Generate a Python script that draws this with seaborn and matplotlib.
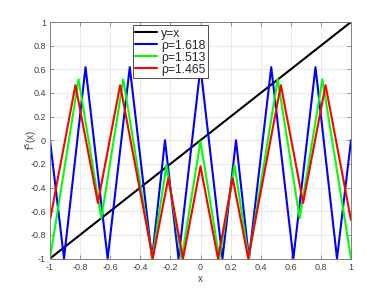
import numpy as np
import pandas as pd
import seaborn as sns
import matplotlib
matplotlib.use("Agg")
import matplotlib.pyplot as plt

# vertices of f^5(x)
blue_x = [-1, -0.907, -0.764, -0.617, -0.470, -0.322, -0.236, -0.146, 0,
          0.146, 0.236, 0.322, 0.470, 0.617, 0.764, 0.907, 1]
blue_y = [0, -1, 0.618, -1, 0.618, -1, 0, -1, 0.618,
          -1, 0, -1, 0.618, -1, 0.618, -1, 0]

green_x = [-1, -0.810, -0.659, -0.513, -0.320, -0.226, -0.125, 0,
           0.125, 0.226, 0.320, 0.513, 0.659, 0.810, 1]
green_y = [-1, 0.515, -0.66, 0.515, -1, -0.21, -1, -0.01,
           -1, -0.21, -1, 0.515, -0.66, 0.515, -1]

red_x = [-1, -0.831, -0.682, -0.534, -0.317, -0.214, -0.116, 0,
         0.116, 0.214, 0.317, 0.534, 0.682, 0.831, 1]
red_y = [-0.675, 0.466, -0.53, 0.466, -1, -0.32, -1, -0.22,
         -1, -0.32, -1, 0.466, -0.53, 0.466, -0.675]

diag_x = [-1, 1]
diag_y = [-1, 1]

labels = ["ρ=1.618", "ρ=1.513", "ρ=1.465"]
ticks = [-1, -0.8, -0.6, -0.4, -0.2, 0, 0.2, 0.4, 0.6, 0.8, 1]
tick_labels = ["-1", "-0.8", "-0.6", "-0.4", "-0.2", "0", "0.2", "0.4", "0.6", "0.8", "1"]

df = pd.concat([
    pd.DataFrame({"x": blue_x, "y": blue_y, "rho": labels[0]}),
    pd.DataFrame({"x": green_x, "y": green_y, "rho": labels[1]}),
    pd.DataFrame({"x": red_x, "y": red_y, "rho": labels[2]}),
])

sns.set_theme(style="whitegrid")
plt.rcParams["font.family"] = ["Liberation Sans", "DejaVu Sans"]

fig = plt.figure(figsize=(3.88, 2.91), dpi=100)
ax = fig.add_axes([50 / 388, 1 - 258.5 / 291, 301 / 388, 236.5 / 291])

sns.lineplot(x=diag_x, y=diag_y, color="black", lw=1.5, label="y=x", ax=ax)
sns.lineplot(data=df, x="x", y="y", hue="rho", sort=False, estimator=None,
             palette=["#0000ff", "#00ff00", "#ff0000"], lw=1.5, ax=ax)

ax.set_xlim(-1, 1)
ax.set_ylim(-1, 1)
ax.set_xticks(ticks, tick_labels)
ax.set_yticks(ticks, tick_labels)
ax.tick_params(direction="in", length=3, width=0.6, color="#808080",
               labelsize=6.5, labelcolor="#404040", top=True, right=True,
               bottom=True, left=True, pad=3)
ax.grid(True, color="#e6e6e6", lw=0.6)
for s in ax.spines.values():
    s.set_color("#808080")
    s.set_linewidth(0.7)
ax.set_xlabel("x", fontsize=7, color="#404040", labelpad=2)
ax.set_ylabel("f$^5$(x)", fontsize=7, color="#404040", labelpad=-6)

leg = ax.legend(loc="upper left", bbox_to_anchor=(83 / 301, 0.987), fontsize=8.8,
                frameon=True, fancybox=False, edgecolor="#333333",
                framealpha=1, borderpad=0.2, labelspacing=0.0,
                handlelength=1.8, handletextpad=0.3, borderaxespad=0)
leg.get_frame().set_linewidth(0.6)

fig.savefig("out.png", dpi=100)
